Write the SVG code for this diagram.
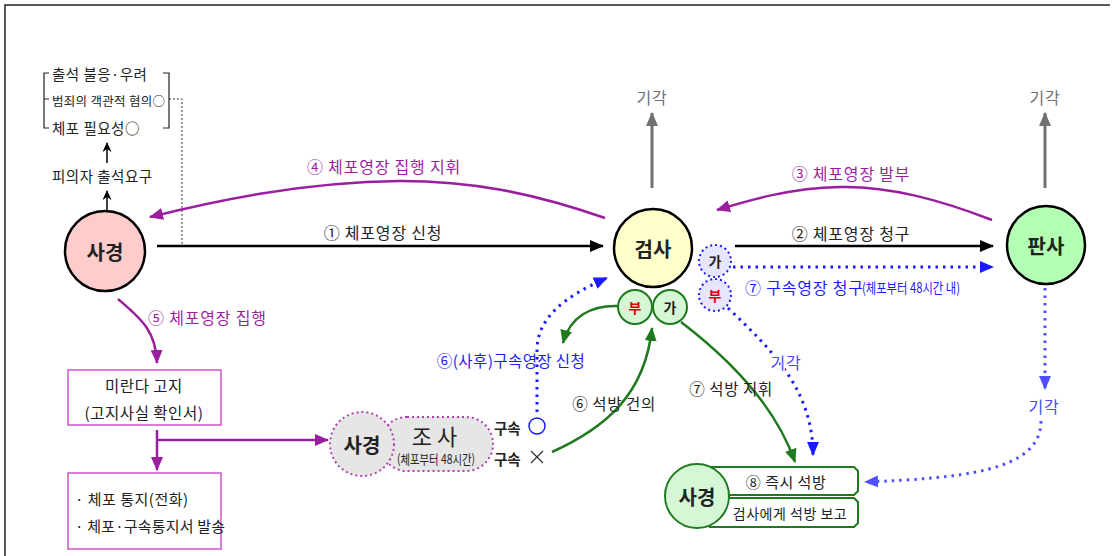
<svg xmlns="http://www.w3.org/2000/svg" width="1115" height="556" viewBox="0 0 1115 556">
<style>
text{font-family:"Noto Sans CJK KR","Noto Sans",sans-serif;fill:#222;}
.lbl{font-size:16px;letter-spacing:0.8px;}
.node{font-size:20px;font-weight:bold;text-anchor:middle;dominant-baseline:central;}
.pu{fill:#9a1f9f;}
.bl{fill:#1a1aff;}
.lb{fill:#4a4aff;}
.gr{fill:#707070;}
.mid{text-anchor:middle;dominant-baseline:central;}
.cen{dominant-baseline:central;}
.halo{stroke:#fff;stroke-width:3;paint-order:stroke;}
.blk{stroke:#000;stroke-width:2.5;fill:none;}
.pur{stroke:#9a1f9f;stroke-width:2.5;fill:none;}
.gry{stroke:#707070;stroke-width:3;fill:none;}
.grn{stroke:#1f7a1f;stroke-width:2.5;fill:none;}
.dot{stroke:#1a1aff;stroke-width:3;fill:none;stroke-dasharray:2.5 5;}
.dotl{stroke:#5050ff;stroke-width:3;fill:none;stroke-dasharray:2.5 5;}
</style>
<defs>
<marker id="ak" markerUnits="userSpaceOnUse" markerWidth="14" markerHeight="12" refX="13" refY="6" orient="auto"><path d="M0,0 L14,6 L0,12 Z" fill="#000"/></marker>
<marker id="akS" markerUnits="userSpaceOnUse" markerWidth="10" markerHeight="10" refX="9" refY="5" orient="auto"><path d="M0,0.5 L10,5 L0,9.5 L3,5 Z" fill="#000"/></marker>
<marker id="ap" markerUnits="userSpaceOnUse" markerWidth="14" markerHeight="12" refX="13" refY="6" orient="auto"><path d="M0,0 L14,6 L0,12 Z" fill="#9a1f9f"/></marker>
<marker id="ag" markerUnits="userSpaceOnUse" markerWidth="14" markerHeight="12" refX="13" refY="6" orient="auto"><path d="M0,0 L14,6 L0,12 Z" fill="#707070"/></marker>
<marker id="an" markerUnits="userSpaceOnUse" markerWidth="14" markerHeight="12" refX="13" refY="6" orient="auto"><path d="M0,0 L14,6 L0,12 Z" fill="#1f7a1f"/></marker>
<marker id="ab" markerUnits="userSpaceOnUse" markerWidth="14" markerHeight="12" refX="13" refY="6" orient="auto"><path d="M0,0 L14,6 L0,12 Z" fill="#1a1aff"/></marker>
<marker id="al" markerUnits="userSpaceOnUse" markerWidth="14" markerHeight="12" refX="13" refY="6" orient="auto"><path d="M0,0 L14,6 L0,12 Z" fill="#5050ff"/></marker>
</defs>

<path d="M5,556 V5 H1110" fill="none" stroke="#222" stroke-width="1.5"/>

<g id="conditions">
<path d="M49,73 H44 V128 H49 M44,99 H49 M163,73 H169 V128 H163" fill="none" stroke="#222" stroke-width="1.2"/>
<path d="M169,99 H182 V244" fill="none" stroke="#333" stroke-width="1" stroke-dasharray="2 2"/>
<text x="52" y="73" class="cen" font-size="14.5" letter-spacing="0.5">출석 불응·우려</text>
<text x="52" y="100" class="cen" font-size="12.5" letter-spacing="0.3">범죄의 객관적 혐의○</text>
<text x="52" y="127" class="cen" font-size="14.5" letter-spacing="0.5">체포 필요성○</text>
<text x="52" y="175" class="cen" font-size="14.5" letter-spacing="0.5">피의자 출석요구</text>
</g>

<g id="connectors">
<line x1="107" y1="163" x2="107" y2="143" stroke="#000" stroke-width="1.5" marker-end="url(#akS)"/>
<line x1="107" y1="211" x2="107" y2="191" stroke="#000" stroke-width="1.5" marker-end="url(#akS)"/>
<line x1="157" y1="246" x2="603" y2="246" class="blk" marker-end="url(#ak)"/>
<line x1="735" y1="246" x2="993" y2="246" class="blk" marker-end="url(#ak)"/>
<line x1="733" y1="267" x2="993" y2="267" class="dot" marker-end="url(#ab)"/>
<path d="M605,218 C530,192 470,181 400,181 C300,182 210,202 150,217" class="pur" marker-end="url(#ap)"/>
<path d="M992,220 C940,200 890,186 840,187 C790,188 750,200 717,210" class="pur" marker-end="url(#ap)"/>
<line x1="652" y1="188" x2="652" y2="113" class="gry" marker-end="url(#ag)"/>
<line x1="1045" y1="188" x2="1045" y2="113" class="gry" marker-end="url(#ag)"/>
<path d="M118,299 C140,318 156,330 157,363" class="pur" marker-end="url(#ap)"/>
<line x1="157" y1="430" x2="157" y2="470" class="pur" marker-end="url(#ap)"/>
<line x1="157" y1="440" x2="328" y2="440" class="pur" marker-end="url(#ap)"/>
<path d="M537,412 L537,350 C537,318 565,296 607,278" class="dot" marker-end="url(#ab)"/>
<path d="M618,306 C592,305 570,316 563,343" class="grn" marker-end="url(#an)"/>
<path d="M552,452 C605,428 645,395 652,328" class="grn" marker-end="url(#an)"/>
<path d="M681,322 Q770,390 795,462" class="grn" marker-end="url(#an)"/>
<path d="M728,308 C772,350 813,390 813,455" class="dot" marker-end="url(#ab)"/>
<line x1="1045" y1="288" x2="1045" y2="389" class="dotl" marker-end="url(#al)"/>
<path d="M1041,421 C1041,472 960,478 865,482" class="dotl" marker-end="url(#al)"/>
</g>

<g id="labels">
<text x="383" y="232" class="lbl mid">① 체포영장 신청</text>
<text x="851" y="233" class="lbl mid">② 체포영장 청구</text>
<text x="384" y="166" class="lbl mid pu">④ 체포영장 집행 지휘</text>
<text x="851" y="173" class="lbl mid pu">③ 체포영장 발부</text>
<text x="148" y="317" class="lbl cen pu">⑤ 체포영장 집행</text>
<text x="652" y="97" class="lbl mid gr">기각</text>
<text x="1045" y="97" class="lbl mid gr">기각</text>
<text x="745" y="287" class="lbl cen bl">⑦ 구속영장 청구</text>
<text x="862" y="287" class="cen bl" font-size="14" textLength="98" lengthAdjust="spacingAndGlyphs">(체포부터 48시간 내)</text>
<text x="511" y="360" class="mid bl" font-size="15.5" letter-spacing="0.4">⑥(사후)구속영장 신청</text>
<text x="614" y="403" class="mid" font-size="15.5" letter-spacing="0.6">⑥ 석방 건의</text>
<text x="731" y="388" class="mid" font-size="15.5" letter-spacing="0.6">⑦ 석방 지휘</text>
<text x="786" y="362" class="lbl mid lb halo">기각</text>
<text x="1044" y="406" class="lbl mid lb">기각</text>
</g>

<g id="sagyeong">
<circle cx="105" cy="251" r="40" fill="#ffcccc" stroke="#000" stroke-width="2.5"/>
<text x="105" y="251" class="node">사경</text>
</g>

<g id="geomsa">
<circle cx="653" cy="248" r="39" fill="#ffffcc" stroke="#000" stroke-width="2.5"/>
<text x="653" y="248" class="node">검사</text>
</g>

<g id="pansa">
<circle cx="1046" cy="245" r="39" fill="#b3ffb3" stroke="#000" stroke-width="2.5"/>
<text x="1046" y="245" class="node">판사</text>
</g>

<g id="geomsa-green-bu">
<circle cx="635" cy="307" r="17" fill="#d6f7d6" stroke="#1f7a1f" stroke-width="2"/>
<text x="635" y="307" class="mid" font-size="14" font-weight="bold" style="fill:#e00000">부</text>
</g>
<g id="geomsa-green-ga">
<circle cx="670" cy="307" r="17" fill="#d6f7d6" stroke="#1f7a1f" stroke-width="2"/>
<text x="670" y="307" class="mid" font-size="14" font-weight="bold">가</text>
</g>
<g id="geomsa-blue-ga">
<circle cx="715" cy="261" r="16" fill="#e6e6ff" stroke="#1a1aff" stroke-width="2" stroke-dasharray="2 3"/>
<text x="715" y="261" class="mid" font-size="14" font-weight="bold">가</text>
</g>
<g id="geomsa-blue-bu">
<circle cx="715" cy="295" r="16" fill="#e6e6ff" stroke="#1a1aff" stroke-width="2" stroke-dasharray="2 3"/>
<text x="715" y="295" class="mid" font-size="14" font-weight="bold" style="fill:#e00000">부</text>
</g>

<g id="miranda">
<rect x="68" y="370" width="153" height="55" fill="#fff" stroke="#cc55cc" stroke-width="1.5"/>
<text x="144" y="385" class="mid" font-size="15.5" letter-spacing="0.5">미란다  고지</text>
<text x="144" y="412" class="mid" font-size="15.5" letter-spacing="0.5">(고지사실  확인서)</text>
</g>

<g id="notice">
<rect x="68" y="473" width="153" height="76" fill="#fff" stroke="#cc55cc" stroke-width="1.5"/>
<text x="75" y="498" class="cen" font-size="15" letter-spacing="0.5">· 체포 통지(전화)</text>
<text x="75" y="525" class="cen" font-size="15" letter-spacing="0.2">· 체포·구속통지서  발송</text>
</g>

<g id="investigation">
<rect x="380" y="417" width="113" height="54" rx="27" fill="#e6e6e6" stroke="#b040b0" stroke-width="2" stroke-dasharray="2 3"/>
<circle cx="362" cy="444" r="32" fill="#e6e6e6" stroke="#b040b0" stroke-width="2" stroke-dasharray="2 3"/>
<text x="362" y="444" class="node">사경</text>
<text x="437" y="435" class="mid" font-size="22" letter-spacing="5">조사</text>
<text x="436" y="458" class="mid" font-size="13" textLength="78" lengthAdjust="spacingAndGlyphs">(체포부터 48시간)</text>
</g>

<g id="detention">
<text x="494" y="427" class="cen" font-size="14.5" font-weight="bold">구속</text>
<circle cx="537" cy="426" r="8" fill="none" stroke="#1a1aff" stroke-width="1.5"/>
<text x="494" y="458" class="cen" font-size="14.5" font-weight="bold">구속</text>
<path d="M531,451 L543,463 M543,451 L531,463" stroke="#333" stroke-width="1.3"/>
</g>

<g id="release">
<path d="M710,467 H854 L858,471 V491 L854,495 H710 Z" fill="#fff" stroke="#1f7a1f" stroke-width="2"/>
<path d="M710,498 H854 L858,502 V523 L854,527 H710 Z" fill="#fff" stroke="#1f7a1f" stroke-width="2"/>
<circle cx="697" cy="496" r="32" fill="#d6f7d6" stroke="#1f7a1f" stroke-width="2"/>
<text x="697" y="496" class="node">사경</text>
<text x="786" y="481" class="mid" font-size="15" letter-spacing="0.5">⑧ 즉시 석방</text>
<text x="790" y="513" class="mid" font-size="14" letter-spacing="0.5">검사에게  석방 보고</text>
</g>
</svg>
